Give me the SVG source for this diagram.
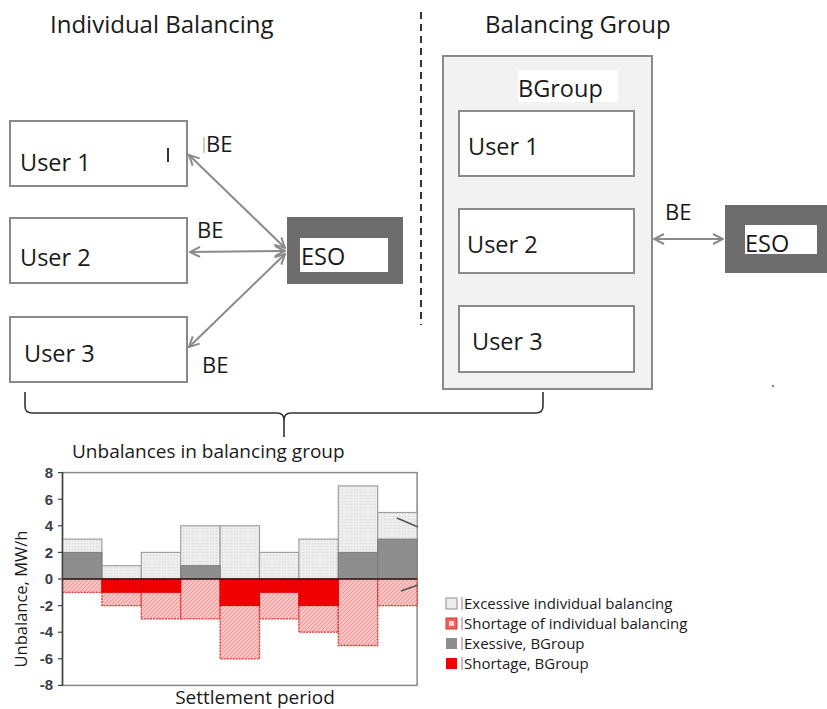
<svg xmlns="http://www.w3.org/2000/svg" width="827" height="709" viewBox="0 0 827 709">
<style>
text{font-family:"Open Sans","Liberation Sans",sans-serif;fill:#1a1a1a}
.h{font-size:24px}
.u{font-size:23.5px}
.be{font-size:22px}
.box{fill:#fff;stroke:#8a8a8a;stroke-width:2}
.eso{fill:#6d6d6d}
.conn{stroke:#8a8a8a;stroke-width:2;fill:none}
.tick{font-family:"Liberation Sans",sans-serif;font-weight:bold;font-size:15px;fill:#3a3d4a}
.lg{font-size:15px}
.lt{fill:url(#dots);stroke:#a0a0a0;stroke-width:1.2}
.dk{fill:#8e8e8e;stroke:#7a7a7a;stroke-width:1}
.pk{fill:url(#hatch);stroke:#e23030;stroke-width:1.3;stroke-dasharray:2 1}
.rd{fill:#f00000;stroke:#e00000;stroke-width:1}
</style>
<defs>
<marker id="ah" viewBox="0 0 12 12" refX="11" refY="6" markerWidth="12" markerHeight="12" markerUnits="userSpaceOnUse" orient="auto-start-reverse">
<path d="M1,1 L11,6 L1,11" fill="none" stroke="#8a8a8a" stroke-width="2"/>
</marker>
<pattern id="dots" width="3" height="3" patternUnits="userSpaceOnUse">
<rect width="3" height="3" fill="#ededed"/>
<rect width="1" height="1" fill="#d6d6d6"/>
</pattern>
<pattern id="hatch" width="4" height="4" patternUnits="userSpaceOnUse">
<rect width="4" height="4" fill="#f7c2c2"/>
<path d="M0,4 L4,0" stroke="#ee8a8a" stroke-width="0.8"/>
</pattern>
</defs>
<rect width="827" height="709" fill="#fff"/>

<text class="h" x="50" y="33">Individual Balancing</text>
<text class="h" x="485" y="33">Balancing Group</text>
<line x1="421" y1="12" x2="421" y2="325" stroke="#333" stroke-width="2" stroke-dasharray="7 5"/>

<g id="user1-left"><rect class="box" x="10" y="121" width="177" height="65"/><text class="u" x="20" y="171">User 1</text><line x1="168" y1="148" x2="168" y2="162" stroke="#333" stroke-width="2"/></g>
<g id="user2-left"><rect class="box" x="10" y="218" width="177" height="65"/><text class="u" x="20" y="266">User 2</text></g>
<g id="user3-left"><rect class="box" x="10" y="317" width="177" height="65"/><text class="u" x="24" y="362">User 3</text></g>
<g id="eso-left"><rect class="eso" x="287" y="217" width="116" height="67"/><rect x="300" y="238" width="88" height="34" fill="#fff"/><text class="u" x="301" y="265">ESO</text></g>

<g id="bgroup"><rect x="443" y="56" width="209" height="333" fill="#f2f2f2" stroke="#8a8a8a" stroke-width="2"/><rect x="518" y="70" width="100" height="32" fill="#fff"/><text class="u" x="518" y="97">BGroup</text></g>
<g id="user1-right"><rect class="box" x="459" y="111" width="175" height="65"/><text class="u" x="468" y="155">User 1</text></g>
<g id="user2-right"><rect class="box" x="459" y="209" width="175" height="64"/><text class="u" x="467" y="253">User 2</text></g>
<g id="user3-right"><rect class="box" x="459" y="306" width="175" height="66"/><text class="u" x="472" y="350">User 3</text></g>
<g id="eso-right"><rect class="eso" x="725" y="205" width="102" height="68"/><rect x="745" y="225" width="72" height="29" fill="#fff"/><text class="u" x="745" y="252">ESO</text></g>

<g id="connectors">
<line class="conn" x1="285" y1="248" x2="189" y2="155" marker-start="url(#ah)" marker-end="url(#ah)"/>
<line class="conn" x1="285" y1="251" x2="190" y2="252" marker-start="url(#ah)" marker-end="url(#ah)"/>
<line class="conn" x1="285" y1="254" x2="189" y2="347" marker-start="url(#ah)" marker-end="url(#ah)"/>
<line class="conn" x1="654" y1="239" x2="723" y2="239" marker-start="url(#ah)" marker-end="url(#ah)"/>
<path d="M25,392 V406 Q25,413 32,413 H277 Q284,413 284,420 V437 M284,420 Q284,413 291,413 H536 Q543,413 543,406 V392" fill="none" stroke="#333" stroke-width="1.6"/>
</g>
<line x1="204" y1="137" x2="204" y2="153" stroke="#999" stroke-width="1"/>
<text class="be" x="206" y="152">BE</text>
<text class="be" x="197" y="238">BE</text>
<text class="be" x="202" y="373">BE</text>
<text class="be" x="665" y="220">BE</text>
<circle cx="773" cy="386" r="1" fill="#555"/>

<g id="chart">
<text x="72" y="458" font-size="19">Unbalances in balancing group</text>
<rect x="62.5" y="472.6" width="354.6" height="212.8" fill="#fff" stroke="#888" stroke-width="1.5"/>
<rect class="lt" x="62.5" y="539.1" width="39.4" height="39.9"/>
<rect class="lt" x="101.9" y="565.7" width="39.4" height="13.3"/>
<rect class="lt" x="141.3" y="552.4" width="39.4" height="26.6"/>
<rect class="lt" x="180.7" y="525.8" width="39.4" height="53.2"/>
<rect class="lt" x="220.1" y="525.8" width="39.4" height="53.2"/>
<rect class="lt" x="259.5" y="552.4" width="39.4" height="26.6"/>
<rect class="lt" x="298.9" y="539.1" width="39.4" height="39.9"/>
<rect class="lt" x="338.3" y="485.9" width="39.4" height="93.1"/>
<rect class="lt" x="377.7" y="512.5" width="39.4" height="66.5"/>
<rect class="dk" x="62.5" y="552.4" width="39.4" height="26.6"/>
<rect class="dk" x="180.7" y="565.7" width="39.4" height="13.3"/>
<rect class="dk" x="338.3" y="552.4" width="39.4" height="26.6"/>
<rect class="dk" x="377.7" y="539.1" width="39.4" height="39.9"/>
<rect class="pk" x="62.5" y="579" width="39.4" height="13.3"/>
<rect class="pk" x="101.9" y="579" width="39.4" height="26.6"/>
<rect class="pk" x="141.3" y="579" width="39.4" height="39.9"/>
<rect class="pk" x="180.7" y="579" width="39.4" height="39.9"/>
<rect class="pk" x="220.1" y="579" width="39.4" height="79.8"/>
<rect class="pk" x="259.5" y="579" width="39.4" height="39.9"/>
<rect class="pk" x="298.9" y="579" width="39.4" height="53.2"/>
<rect class="pk" x="338.3" y="579" width="39.4" height="66.5"/>
<rect class="pk" x="377.7" y="579" width="39.4" height="26.6"/>
<rect class="rd" x="101.9" y="579" width="39.4" height="13.3"/>
<rect class="rd" x="141.3" y="579" width="39.4" height="13.3"/>
<rect class="rd" x="220.1" y="579" width="39.4" height="26.6"/>
<rect class="rd" x="259.5" y="579" width="39.4" height="13.3"/>
<rect class="rd" x="298.9" y="579" width="39.4" height="26.6"/>
<line x1="62.5" y1="579" x2="417" y2="579" stroke="#222" stroke-width="1.6"/>
<line x1="62.5" y1="472" x2="62.5" y2="686" stroke="#444" stroke-width="1.5"/>
<line x1="397" y1="518" x2="418" y2="527" stroke="#555" stroke-width="1.5"/>
<line x1="401" y1="591" x2="418" y2="585" stroke="#555" stroke-width="1.5"/>
<g class="ticks" stroke="#444" stroke-width="1.2">
<line x1="58" y1="472.6" x2="62.5" y2="472.6"/><line x1="58" y1="499.2" x2="62.5" y2="499.2"/><line x1="58" y1="525.8" x2="62.5" y2="525.8"/><line x1="58" y1="552.4" x2="62.5" y2="552.4"/><line x1="58" y1="579" x2="62.5" y2="579"/><line x1="58" y1="605.6" x2="62.5" y2="605.6"/><line x1="58" y1="632.2" x2="62.5" y2="632.2"/><line x1="58" y1="658.8" x2="62.5" y2="658.8"/><line x1="58" y1="685.4" x2="62.5" y2="685.4"/>
</g>
<text class="tick" x="53" y="478" text-anchor="end">8</text>
<text class="tick" x="53" y="504.5" text-anchor="end">6</text>
<text class="tick" x="53" y="531" text-anchor="end">4</text>
<text class="tick" x="53" y="557.5" text-anchor="end">2</text>
<text class="tick" x="53" y="584" text-anchor="end">0</text>
<text class="tick" x="53" y="610.5" text-anchor="end">-2</text>
<text class="tick" x="53" y="637" text-anchor="end">-4</text>
<text class="tick" x="53" y="663.5" text-anchor="end">-6</text>
<text class="tick" x="53" y="690" text-anchor="end">-8</text>
<text x="0" y="0" font-size="16.5" text-anchor="middle" transform="translate(27,599) rotate(-90)">Unbalance, MW/h</text>
<text x="255" y="704" font-size="19" text-anchor="middle">Settlement period</text>
</g>

<g id="legend">
<rect x="446" y="598" width="11" height="11" fill="#ececec" stroke="#a0a0a0" stroke-width="1.2"/>
<rect x="446" y="618" width="11" height="11" fill="#f06060" stroke="#e23030" stroke-width="1"/><rect x="449" y="621" width="5" height="5" fill="#fbd6d6"/>
<rect x="446" y="638" width="11" height="11" fill="#8e8e8e"/>
<rect x="446" y="658" width="11" height="11" fill="#f00000"/>
<g stroke="#b07070" stroke-width="1"><line x1="462" y1="597" x2="462" y2="610"/><line x1="462" y1="617" x2="462" y2="630"/><line x1="462" y1="637" x2="462" y2="650"/><line x1="462" y1="657" x2="462" y2="670"/></g>
<text class="lg" x="464" y="609">Excessive individual balancing</text>
<text class="lg" x="464" y="629">Shortage of individual balancing</text>
<text class="lg" x="464" y="649">Exessive, BGroup</text>
<text class="lg" x="464" y="669">Shortage, BGroup</text>
</g>
</svg>
